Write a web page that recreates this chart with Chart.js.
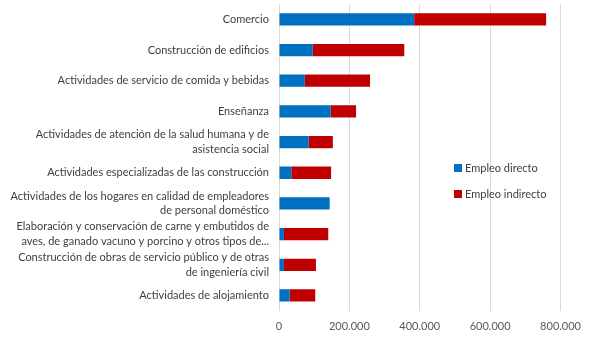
<!DOCTYPE html>
<html>
<head>
<meta charset="utf-8">
<script src="https://cdn.jsdelivr.net/npm/chart.js@4"></script>
<style>
  html, body { margin: 0; padding: 0; background: #fff; }
  #wrap { width: 590px; height: 337px; position: relative; }
</style>
</head>
<body>
<div id="wrap"><canvas id="empleoChart" width="590" height="337"></canvas></div>
<script>
// --- Data ---
const categorias = [
  "Comercio",
  "Construcción de edificios",
  "Actividades de servicio de comida y bebidas",
  "Enseñanza",
  ["Actividades de atención de la salud humana y de", "asistencia social"],
  "Actividades especializadas de las construcción",
  ["Actividades de los hogares en calidad de empleadores", "de personal doméstico"],
  ["Elaboración y conservación de carne y embutidos de", "aves, de ganado vacuno y porcino y otros tipos de..."],
  ["Construcción de obras de servicio público y de otras", "de ingeniería civil"],
  "Actividades de alojamiento"
];
const empleoDirecto   = [384000, 96000, 73500, 147000, 84000, 35000, 144000, 14000, 14000, 30000];
const empleoIndirecto = [375000, 260000, 185000, 72000, 69000, 113000, 0, 126000, 91000, 73000];
const ejeTicks = [0, 200000, 400000, 600000, 800000];

// --- Helpers ---
function fmtMiles(v) {
  return String(v).replace(/\B(?=(\d{3})+(?!\d))/g, ".");
}

// --- Legend drawn inside the plot, like the original ---
const leyendaPlugin = {
  id: "leyenda",
  afterDraw(chart) {
    const ctx = chart.ctx;
    const items = chart.data.datasets;
    ctx.save();
    ctx.font = "11px Lato";
    ctx.textBaseline = "middle";
    items.forEach((ds, i) => {
      const y = 168 + i * 26;
      ctx.fillStyle = ds.backgroundColor;
      ctx.fillRect(454, y - 4, 8, 8);
      ctx.fillStyle = "#404040";
      ctx.fillText(ds.label, 465, y);
    });
    ctx.restore();
  }
};

// --- Chart ---
const ctx = document.getElementById("empleoChart").getContext("2d");
new Chart(ctx, {
  type: "bar",
  data: {
    labels: categorias,
    datasets: [
      { label: "Empleo directo", data: empleoDirecto, backgroundColor: "#0070C0" },
      { label: "Empleo indirecto", data: empleoIndirecto, backgroundColor: "#C00000" }
    ]
  },
  options: {
    indexAxis: "y",
    responsive: false,
    animation: false,
    barPercentage: 0.8,
    categoryPercentage: 0.5,
    layout: { padding: { top: 4, right: 8, bottom: -5, left: 0 } },
    plugins: { legend: { display: false }, tooltip: { enabled: false } },
    scales: {
      x: {
        stacked: true,
        min: 0,
        max: 800000,
        afterBuildTicks: (s) => { s.ticks = ejeTicks.map(v => ({ value: v })); },
        ticks: { callback: (v) => fmtMiles(v), color: "#595959", font: { family: "Lato", size: 11 }, padding: 9, maxRotation: 0 },
        grid: { color: "#D9D9D9", drawTicks: false },
        border: { display: false }
      },
      y: {
        stacked: true,
        afterFit: (s) => { s.width = 279; s.paddingTop = 0; s.paddingBottom = 0; },
        ticks: { color: "#404040", font: { family: "Lato", size: 11, lineHeight: 1.35 }, padding: 10, autoSkip: false },
        grid: { display: false, drawTicks: false },
        border: { display: false }
      }
    }
  },
  plugins: [leyendaPlugin]
});
</script>
</body>
</html>
